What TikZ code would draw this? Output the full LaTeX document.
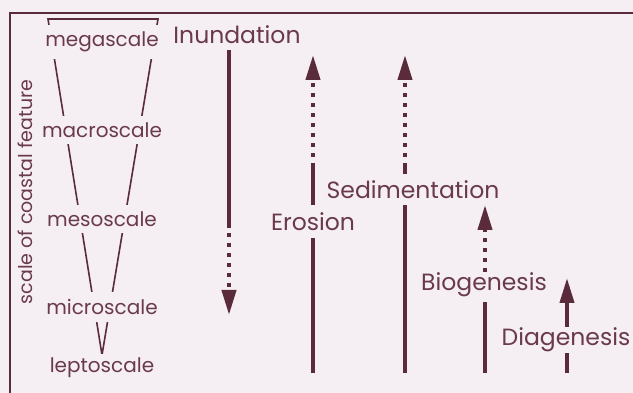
\documentclass[tikz,border=0pt]{standalone}
\usepackage{fontspec}
\setmainfont{Poppins}
\usetikzlibrary{arrows.meta}
\definecolor{bg}{HTML}{F5EEF3}
\definecolor{ink}{HTML}{5A2C3B}
\definecolor{txt}{HTML}{6A3A4A}
\begin{document}
\begin{tikzpicture}[x=1pt,y=-1pt,
  lbl/.style={text=txt,font=\fontsize{20}{22}\selectfont,inner sep=0pt},
  big/.style={lbl,font=\fontsize{23.5}{26}\selectfont},
  scl/.style={lbl,fill=bg,inner xsep=3pt,inner ysep=7pt},
  funnel/.style={draw=ink,line width=1.6pt},
  frame/.style={draw=ink,line width=2.6pt},
  solidline/.style={draw=ink,line width=4pt},
  dotline/.style={draw=ink,line width=4pt,dash pattern=on 4pt off 6pt},
  tip/.style={-{Triangle[length=25pt 0,width=14pt 0]}}]
\fill[bg] (0,0) rectangle (633,393);
\useasboundingbox (0,0) rectangle (633,393);
% frame
\coordinate (fTL) at (10,13);
\coordinate (fTR) at (640,13);
\coordinate (fBL) at (10,400);
\draw[frame] (fBL) -- (fTL) -- (fTR);
% funnel
\coordinate (fa) at (48,19);
\coordinate (fb) at (158,19);
\coordinate (fc) at (102,355);
\draw[funnel] (fa) -- (fc) -- (fb) -- cycle;
\node[scl] (mega) at (102,42) {megascale};
\node[scl] (macro) at (102,130) {macroscale};
\node[scl] (meso) at (102,219) {mesoscale};
\node[scl] (micro) at (102,307) {microscale};
\node[scl,inner ysep=4pt] (lepto) at (102,368) {leptoscale};
\node[lbl,font=\fontsize{19}{21}\selectfont,rotate=90] (axis) at (25,192) {scale of coastal feature};
% Inundation
\node[big] (inund) at (237,35) {Inundation};
\coordinate (i1) at (229,50);
\coordinate (i2) at (229,228);
\coordinate (i3) at (229,233);
\coordinate (i4) at (229,315);
\draw[solidline] (i1) -- (i2);
\draw[dotline,tip] (i3) -- (i4);
% Erosion
\node[big] (eros) at (313,222) {Erosion};
\coordinate (e1) at (313,373);
\coordinate (e2) at (313,238);
\coordinate (e3) at (313,205);
\coordinate (e4) at (313,163);
\coordinate (e5) at (313,157);
\coordinate (e6) at (313,55);
\draw[solidline] (e1) -- (e2);
\draw[solidline] (e3) -- (e4);
\draw[dotline,tip] (e5) -- (e6);
% Sedimentation
\node[big] (sedi) at (413,190) {Sedimentation};
\coordinate (s1) at (405,373);
\coordinate (s2) at (405,205);
\coordinate (s3) at (405,174);
\coordinate (s4) at (405,163);
\coordinate (s5) at (405,157);
\coordinate (s6) at (405,55);
\draw[solidline] (s1) -- (s2);
\draw[solidline] (s3) -- (s4);
\draw[dotline,tip] (s5) -- (s6);
% Biogenesis
\node[big] (bio) at (484,285) {Biogenesis};
\coordinate (b1) at (485,373);
\coordinate (b2) at (485,302);
\coordinate (b3) at (485,272);
\coordinate (b4) at (485,205);
\draw[solidline] (b1) -- (b2);
\draw[dotline,tip] (b3) -- (b4);
% Diagenesis
\node[big] (dia) at (566,340) {Diagenesis};
\coordinate (d1) at (567,373);
\coordinate (d2) at (567,353);
\coordinate (d3) at (567,327);
\coordinate (d4) at (567,278);
\draw[solidline] (d1) -- (d2);
\draw[solidline,tip] (d3) -- (d4);
\end{tikzpicture}
\end{document}
